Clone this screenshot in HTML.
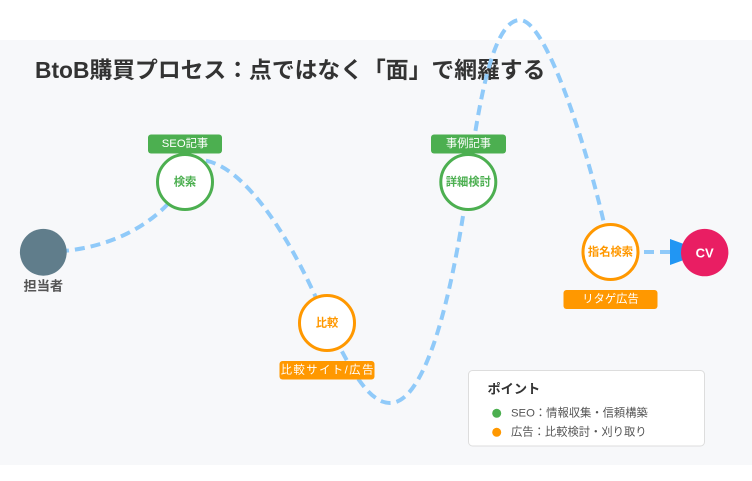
<!DOCTYPE html>
<html>
<head>
<meta charset="utf-8">
<style>
  html, body { margin: 0; padding: 0; background: #ffffff; }
  body { width: 752px; height: 481px; overflow: hidden; }
  svg { display: block; }
  text { font-family: "Liberation Sans", "Noto Sans CJK JP", sans-serif; }
</style>
</head>
<body>
<svg width="752" height="481" viewBox="0 0 752 481" xmlns="http://www.w3.org/2000/svg">
  <!-- background panel -->
  <rect x="0" y="0" width="752" height="481" fill="#ffffff"/>
  <rect x="0" y="40" width="752" height="425" fill="#f7f8fa"/>

  <!-- title -->
  <text x="35" y="78" font-size="22.8" font-weight="bold" fill="#333333">BtoB購買プロセス：点ではなく「面」で網羅する</text>

  <!-- main dashed journey path -->
  <g fill="none" stroke="#90caf9" stroke-width="4" stroke-dasharray="10,6">
    <path d="M43,252 C100,252 155,230 185,182"/>
    <path d="M190,160 L200,160 C245,162 295,245 327,323 C345,356 365,403 390,403 C425,403 452,300 468,182 C480,90 495,20 520,20 C550,20 598,185 610,252"/>
    <path d="M612,252 L672,252"/>
  </g>

  <!-- arrowhead -->
  <polygon points="670,239 670,265 706,252" fill="#2196f3"/>

  <!-- 担当者 -->
  <circle cx="43.3" cy="252.3" r="23.4" fill="#607d8b"/>
  <text x="43.3" y="286" font-size="13.2" font-weight="bold" fill="#555555" text-anchor="middle" dominant-baseline="central">担当者</text>

  <!-- 検索 -->
  <circle cx="185" cy="182" r="27.5" fill="#ffffff" stroke="#4caf50" stroke-width="3"/>
  <text x="185" y="182.5" font-size="11.3" font-weight="bold" fill="#4caf50" text-anchor="middle" dominant-baseline="central">検索</text>
  <rect x="148" y="134.5" width="74" height="19" rx="3" fill="#4caf50"/>
  <text x="185" y="144.2" font-size="11.3" fill="#ffffff" text-anchor="middle" dominant-baseline="central">SEO記事</text>

  <!-- 比較 -->
  <circle cx="327" cy="323" r="27.5" fill="#ffffff" stroke="#ff9800" stroke-width="3"/>
  <text x="327" y="323.5" font-size="11.3" font-weight="bold" fill="#ff9800" text-anchor="middle" dominant-baseline="central">比較</text>
  <rect x="279.5" y="361" width="95" height="18.5" rx="3" fill="#ff9800"/>
  <text x="327.8" y="370.4" font-size="11.3" fill="#ffffff" text-anchor="middle" dominant-baseline="central" letter-spacing="1.5">比較サイト/広告</text>

  <!-- 詳細検討 -->
  <circle cx="468.3" cy="182" r="27.5" fill="#ffffff" stroke="#4caf50" stroke-width="3"/>
  <text x="468.3" y="182.5" font-size="11.3" font-weight="bold" fill="#4caf50" text-anchor="middle" dominant-baseline="central">詳細検討</text>
  <rect x="431" y="134.5" width="75" height="19" rx="3" fill="#4caf50"/>
  <text x="468.5" y="144.2" font-size="11.3" fill="#ffffff" text-anchor="middle" dominant-baseline="central">事例記事</text>

  <!-- 指名検索 -->
  <circle cx="610.5" cy="252" r="27.5" fill="#ffffff" stroke="#ff9800" stroke-width="3"/>
  <text x="610.5" y="252.5" font-size="11.3" font-weight="bold" fill="#ff9800" text-anchor="middle" dominant-baseline="central">指名検索</text>
  <rect x="563.5" y="290" width="94" height="19" rx="3" fill="#ff9800"/>
  <text x="610.5" y="299.7" font-size="11.3" fill="#ffffff" text-anchor="middle" dominant-baseline="central">リタゲ広告</text>

  <!-- CV -->
  <circle cx="704.7" cy="252.6" r="23.7" fill="#e91e63"/>
  <text x="704.7" y="253" font-size="13" font-weight="bold" fill="#ffffff" text-anchor="middle" dominant-baseline="central">CV</text>

  <!-- legend -->
  <rect x="468.5" y="370.5" width="236" height="75.5" rx="4" fill="#ffffff" stroke="#dddddd" stroke-width="1"/>
  <text x="487.5" y="389" font-size="13.2" font-weight="bold" fill="#333333" dominant-baseline="central">ポイント</text>
  <circle cx="496.7" cy="413.3" r="4.5" fill="#4caf50"/>
  <text x="511" y="413.5" font-size="11.3" fill="#555555" dominant-baseline="central">SEO：情報収集・信頼構築</text>
  <circle cx="496.7" cy="432.3" r="4.5" fill="#ff9800"/>
  <text x="511" y="432.5" font-size="11.3" fill="#555555" dominant-baseline="central">広告：比較検討・刈り取り</text>
</svg>
</body>
</html>
